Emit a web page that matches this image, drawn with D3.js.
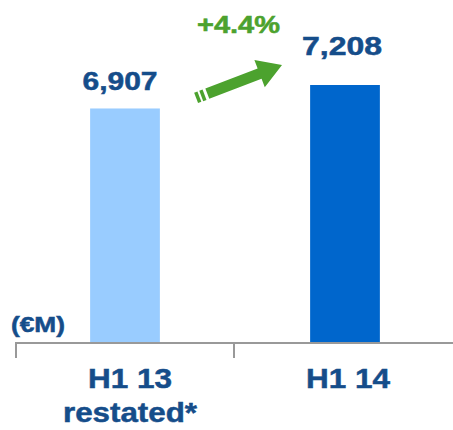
<!DOCTYPE html>
<html><head><meta charset="utf-8">
<script src="https://cdn.jsdelivr.net/npm/d3@7"></script>
<style>html,body{margin:0;padding:0;background:#fff;}svg{display:block;}</style>
</head><body>
<script>
const categories = ["H1 13", "H1 14"];
const subLabels = ["restated*", ""];
const values = [6907, 7208];
const valueLabels = ["6,907", "7,208"];
const growthLabel = "+4.4%";
const unitLabel = "(€M)";
const barColors = ["#99CCFF", "#0066CC"];

const W = 453, H = 430;
const svg = d3.select("body").append("svg").attr("width", W).attr("height", H);
const font = "'Liberation Sans', Arial, sans-serif";
const blue = "#154D8A", green = "#4CA22E";

const x = d3.scaleBand().domain(categories).range([16, 452]).padding(0);
const y = d3.scaleLinear().domain([3900, 7208]).range([343, 85]);
const bw = x.bandwidth() * 0.32;

// bars
svg.selectAll("rect.bar").data(values).enter().append("rect")
  .attr("x", (d, i) => x(categories[i]) + x.bandwidth() / 2 - bw / 2 + (i === 0 ? 0 : 2))
  .attr("width", bw)
  .attr("y", d => y(d))
  .attr("height", d => y.range()[0] - y(d))
  .attr("fill", (d, i) => barColors[i]);

// axis
const y0 = y.range()[0];
svg.append("line").attr("x1", 16).attr("x2", W).attr("y1", y0).attr("y2", y0)
  .attr("stroke", "#999").attr("stroke-width", 2);
const tickXs = categories.map(c => x(c));
svg.selectAll("line.tick").data(tickXs).enter().append("line")
  .attr("x1", d => d).attr("x2", d => d).attr("y1", y0 - 1).attr("y2", y0 + 15)
  .attr("stroke", "#999").attr("stroke-width", 2);

function boldText(sel, color) {
  return sel.attr("font-family", font).attr("font-weight", "bold")
    .attr("fill", color).attr("stroke", color).attr("stroke-width", 0.5)
    .attr("lengthAdjust", "spacingAndGlyphs");
}

// category labels
boldText(svg.selectAll("text.cat").data(categories).enter().append("text")
  .attr("x", d => x(d) + x.bandwidth() / 2 + 5)
  .attr("y", 388)
  .attr("text-anchor", "middle")
  .attr("font-size", 28)
  .attr("textLength", 84), blue)
  .text(d => d);
boldText(svg.selectAll("text.sub").data(subLabels.filter(s => s)).enter().append("text")
  .attr("x", (d, i) => x(categories[i]) + x.bandwidth() / 2 + 5)
  .attr("y", 422)
  .attr("text-anchor", "middle")
  .attr("font-size", 28)
  .attr("textLength", 134), blue)
  .text(d => d);

// value labels
boldText(svg.selectAll("text.val").data(values).enter().append("text")
  .attr("x", (d, i) => x(categories[i]) + x.bandwidth() / 2 + (i === 0 ? -5 : -1))
  .attr("y", d => y(d) - 18 - (d === values[1] ? 12 : 0))
  .attr("text-anchor", "middle")
  .attr("font-size", 25)
  .attr("textLength", (d, i) => i === 0 ? 75 : 80), blue)
  .text((d, i) => valueLabels[i]);

// unit label
boldText(svg.append("text").attr("x", 11).attr("y", 332)
  .attr("font-size", 22)
  .attr("textLength", 54), blue)
  .text(unitLabel);

// growth label
boldText(svg.append("text").attr("x", 238.5).attr("y", 33)
  .attr("text-anchor", "middle")
  .attr("font-size", 23)
  .attr("textLength", 83), green)
  .text(growthLabel);

// arrow
const tip = [282, 65], ang = -21, L = 92, sh = 5.5, hw = 14.5, hl = 24;
const g = svg.append("g").attr("transform", `translate(${tip[0]},${tip[1]}) rotate(${ang})`);
g.append("path").attr("fill", green)
  .attr("d", `M0,0 L${-hl},${-hw} L${-hl},${-sh} L${-L + 12},${-sh} L${-L + 12},${sh} L${-hl},${sh} L${-hl},${hw} Z`);
g.append("rect").attr("x", -L + 5.5).attr("y", -sh).attr("width", 3.5).attr("height", 2 * sh).attr("fill", green);
g.append("rect").attr("x", -L).attr("y", -sh).attr("width", 3.5).attr("height", 2 * sh).attr("fill", green);
</script>
</body></html>
